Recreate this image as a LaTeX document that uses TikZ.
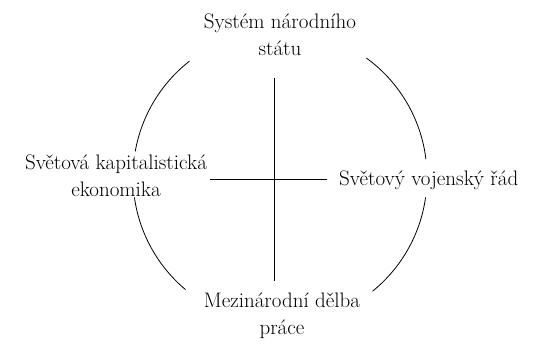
\documentclass[tikz,border=0pt]{standalone}
\usepackage{fontspec}
\usetikzlibrary{calc}
\begin{document}
\begin{tikzpicture}[x=1pt,y=1pt,
  lbl/.style={align=center,font=\fontsize{21}{27}\selectfont,inner sep=0pt},
  arcline/.style={line width=0.8pt},
  crossline/.style={line width=1pt}]
\useasboundingbox (0,0) rectangle (544,344);
\coordinate (c) at (280,167);
\node[lbl] (top) at (280,309) {Systém národního\\státu};
\node[lbl] (left) at (116,168) {Světová kapitalistická\\ekonomika};
\node[lbl,anchor=west] (right) at (339,164) {Světový vojenský řád};
\node[lbl] (bottom) at (282,28) {Mezinárodní dělba\\práce};
\coordinate (vt) at (274,266);
\coordinate (vb) at (274,63);
\coordinate (hl) at (210,164);
\coordinate (hr) at (327,164);
\draw[crossline] (vt) -- (vb);
\draw[crossline] (hl) -- (hr);
\draw[arcline] ($(c)+(128:147pt)$) arc[start angle=128,end angle=170,radius=147pt];
\draw[arcline] ($(c)+(54:147pt)$) arc[start angle=54,end angle=7,radius=147pt];
\draw[arcline] ($(c)+(-8:147pt)$) arc[start angle=-8,end angle=-51,radius=147pt];
\draw[arcline] ($(c)+(188:147pt)$) arc[start angle=188,end angle=230,radius=147pt];
\end{tikzpicture}
\end{document}
